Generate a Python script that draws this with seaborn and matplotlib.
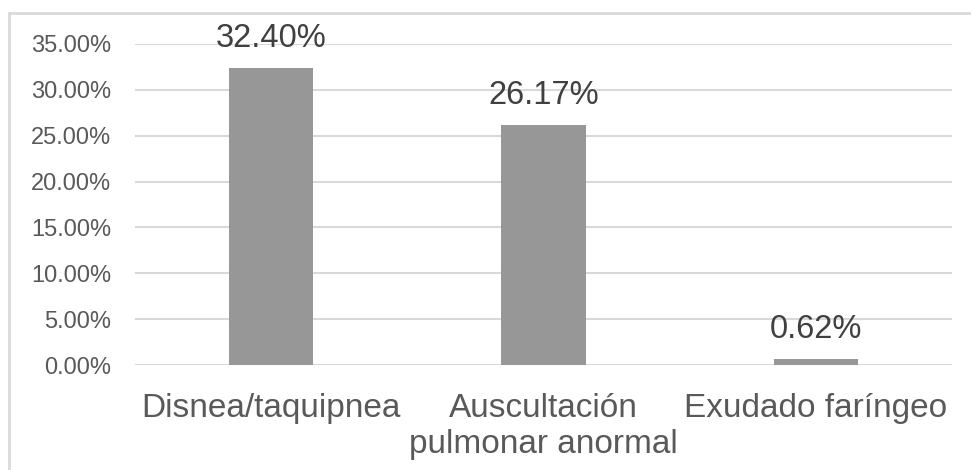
import matplotlib
matplotlib.use("Agg")
import matplotlib.pyplot as plt
import seaborn as sns
import pandas as pd
from matplotlib.patches import Rectangle
from matplotlib.ticker import FuncFormatter

categories = ["Disnea/taquipnea", "Auscultación\npulmonar anormal", "Exudado faríngeo"]
values = [0.3240, 0.2617, 0.0062]
value_labels = ["32.40%", "26.17%", "0.62%"]
yticks = [0.0, 0.05, 0.10, 0.15, 0.20, 0.25, 0.30, 0.35]

sns.set_theme(style="white")
plt.rcParams["font.family"] = ["Liberation Sans", "DejaVu Sans"]

df = pd.DataFrame({"cat": categories, "val": values})

fig = plt.figure(figsize=(9.71, 4.70), dpi=100)
ax = fig.add_axes([135 / 971, 1 - 365 / 470, (952 - 135) / 971, (365 - 44) / 470])

sns.barplot(data=df, x="cat", y="val", color="#979797", width=0.31, ax=ax,
            saturation=1, edgecolor="none")

ax.set_ylim(0, 0.35)
ax.set_xlim(-0.5, 2.5)
ax.set_yticks(yticks)
ax.yaxis.set_major_formatter(FuncFormatter(lambda v, p: f"{v*100:.2f}%"))
ax.yaxis.grid(True, color="#d9d9d9", linewidth=1.5)
ax.set_axisbelow(True)
for s in ax.spines.values():
    s.set_visible(False)
ax.set_xlabel("")
ax.set_ylabel("")
ax.tick_params(axis="y", length=0, pad=17, labelsize=17, labelcolor="#595959")
ax.tick_params(axis="x", length=0, pad=20, labelsize=24, labelcolor="#595959")
for t in ax.get_xticklabels():
    t.set_linespacing(1.2)

for i, (v, lab) in enumerate(zip(values, value_labels)):
    ax.annotate(lab, (i, v), xytext=(0, 15), textcoords="offset points",
                ha="center", va="baseline", fontsize=23.5, color="#404040")

fig.patches.append(Rectangle((9 / 971, -0.1), 1.2, (1 - 13 / 470) + 0.1,
                             transform=fig.transFigure, fill=False,
                             edgecolor="#d9d9d9", linewidth=2, zorder=0))

fig.savefig("out.png", dpi=100)
